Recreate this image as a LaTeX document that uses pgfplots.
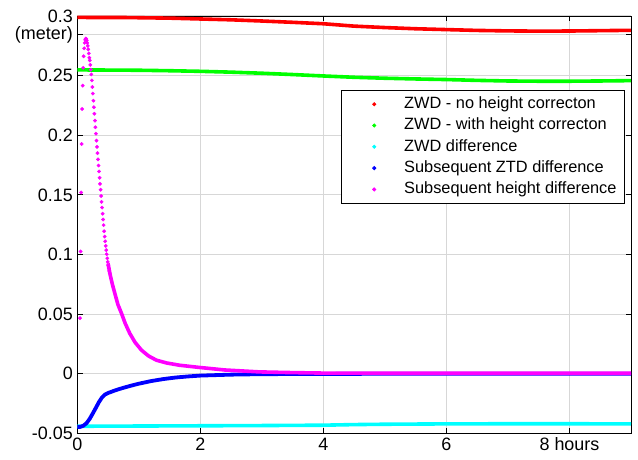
\documentclass[border=0pt]{standalone}
\usepackage{fontspec}
\setmainfont{Liberation Sans}
\usepackage{pgfplots}
\pgfplotsset{compat=1.18}
\definecolor{gridc}{RGB}{215,215,215}
\definecolor{cR}{RGB}{255,0,0}
\definecolor{cG}{RGB}{0,255,0}
\definecolor{cC}{RGB}{0,255,255}
\definecolor{cB}{RGB}{0,0,255}
\definecolor{cM}{RGB}{255,0,255}
\begin{document}
\begin{tikzpicture}
\begin{axis}[
  at={(0,0)}, anchor=south west,
  scale only axis, width=553.7bp, height=417.3bp,
  xmin=0, xmax=9, ymin=-0.05, ymax=0.3,
  axis line style={black, line width=0.8bp},
  xtick={0,2,4,6,8}, xticklabels={0,2,4,6,8 hours},
  ytick={-0.05,0,0.05,0.1,0.15,0.2,0.25,0.2843,0.3},
  yticklabels={-0.05,0,0.05,0.1,0.15,0.2,0.25,(meter),0.3},
  tick align=inside, major tick length=5.5bp,
  tick style={black, line width=0.8bp},
  grid=major, major grid style={gridc, line width=1bp},
  ticklabel style={font=\fontsize{18}{21}\selectfont},
  xticklabel style={yshift=-1bp},
  yticklabel style={xshift=-1bp},
  legend image code/.code={\path[draw=none,fill=none] (0bp,0) -- (55bp,0); \fill[#1] (25bp,0) circle (1.6bp);},
  legend style={at={(rel axis cs:0.989,0.823)}, anchor=north east, draw=black, line width=0.8bp,
    font=\fontsize{16.4}{19}\selectfont, inner xsep=8bp, inner ysep=6.2bp, row sep=5.8bp,
    nodes={inner sep=0bp, text height=12bp, text depth=3.5bp}},
  legend cell align=left,
]
\addplot[cR, line width=3.6bp, forget plot] coordinates {(0,0.2988) (0.8,0.2987) (1.5,0.2982) (2,0.2975) (2.5,0.2968) (3,0.2958) (3.5,0.2947) (4,0.2935) (4.5,0.2915) (5,0.2903) (5.5,0.2893) (6,0.2886) (6.5,0.2879) (7,0.2875) (7.5,0.2873) (8,0.2874) (8.5,0.2877) (9,0.2880)};
\addplot[cG, line width=3.6bp, forget plot] coordinates {(0,0.2548) (1,0.2545) (1.5,0.2541) (2,0.2536) (2.5,0.2529) (3,0.2520) (3.5,0.2509) (4,0.2497) (4.5,0.2486) (5,0.2478) (5.5,0.2472) (6,0.2467) (6.5,0.2460) (7,0.2455) (7.5,0.2453) (8,0.2453) (8.5,0.2455) (9,0.2458)};
\addplot[cC, line width=3.6bp, forget plot] coordinates {(0,-0.0441) (1,-0.0439) (2,-0.0437) (3,-0.0435) (4,-0.0432) (4.5,-0.0427) (5,-0.0424) (6,-0.0421) (7,-0.0420) (8,-0.0420) (9,-0.0421)};
\addplot[cB, line width=3.8bp, forget plot] coordinates {(0,-0.0447) (0.05,-0.0446) (0.1,-0.0436) (0.15,-0.0415) (0.2,-0.0380) (0.25,-0.0335) (0.3,-0.0288) (0.35,-0.0240) (0.4,-0.0200) (0.45,-0.0175) (0.5,-0.0162) (0.6,-0.0143) (0.7,-0.0126) (0.8,-0.0111) (0.9,-0.0097) (1.0,-0.0084) (1.2,-0.0062) (1.4,-0.0045) (1.6,-0.0032) (1.8,-0.0023) (2.0,-0.0016) (2.5,-0.0008) (3.0,-0.0004) (4,-0.0002) (5,-0.0001) (9,0)};
\addplot[cM, only marks, mark=*, mark size=1.7bp, forget plot] coordinates {
(0.045,0.0466) (0.053,0.1025) (0.062,0.152) (0.070,0.1926) (0.078,0.222) (0.087,0.2416) (0.095,0.2565) (0.103,0.2662) (0.112,0.2729) (0.120,0.2775) (0.128,0.2800) (0.137,0.2810) (0.145,0.2808) (0.153,0.2795)
(0.162,0.2775) (0.170,0.2750) (0.178,0.2720) (0.187,0.2686) (0.195,0.2650) (0.203,0.2628) (0.212,0.2590) (0.220,0.2550) (0.228,0.2510) (0.237,0.2460) (0.245,0.2405) (0.253,0.2349) (0.262,0.2290) (0.270,0.2235) (0.278,0.2180) (0.287,0.2122) (0.295,0.2067) (0.303,0.2013) (0.312,0.1955) (0.320,0.1902) (0.328,0.1850) (0.337,0.1797) (0.345,0.1746) (0.353,0.1696) (0.362,0.1643) (0.370,0.1592) (0.378,0.1543) (0.387,0.1490) (0.395,0.1441) (0.403,0.1393) (0.412,0.1342) (0.420,0.1293) (0.428,0.1246) (0.437,0.1195) (0.445,0.1150) (0.453,0.1110) (0.462,0.1072) (0.470,0.1036) (0.478,0.1002) (0.487,0.0968) (0.495,0.0937) (0.503,0.0907) (0.512,0.0885) (0.520,0.0862) (0.528,0.0843)};
\addplot[cM, line width=3.6bp, forget plot] coordinates {(0.50,0.0925) (0.53,0.0839) (0.57,0.0750) (0.611,0.0672) (0.66,0.0580) (0.72,0.0504) (0.78,0.0420) (0.854,0.0337) (0.94,0.0262) (1.044,0.0197) (1.16,0.0148) (1.287,0.0113) (1.45,0.0090) (1.66,0.0071) (1.99,0.0052) (2.4,0.0031) (2.96,0.0015) (3.5,0.0009) (4,0.0005) (5,0.0004) (9,0.0004)};
\addlegendimage{cR}\addlegendentry{ZWD - no height correcton}
\addlegendimage{cG}\addlegendentry{ZWD - with height correcton}
\addlegendimage{cC}\addlegendentry{ZWD difference}
\addlegendimage{cB}\addlegendentry{Subsequent ZTD difference}
\addlegendimage{cM}\addlegendentry{Subsequent height difference}
\end{axis}
\pgfresetboundingbox
\path (-77.3bp,-26.7bp) rectangle (560.7bp,433.3bp);
\end{tikzpicture}
\end{document}
